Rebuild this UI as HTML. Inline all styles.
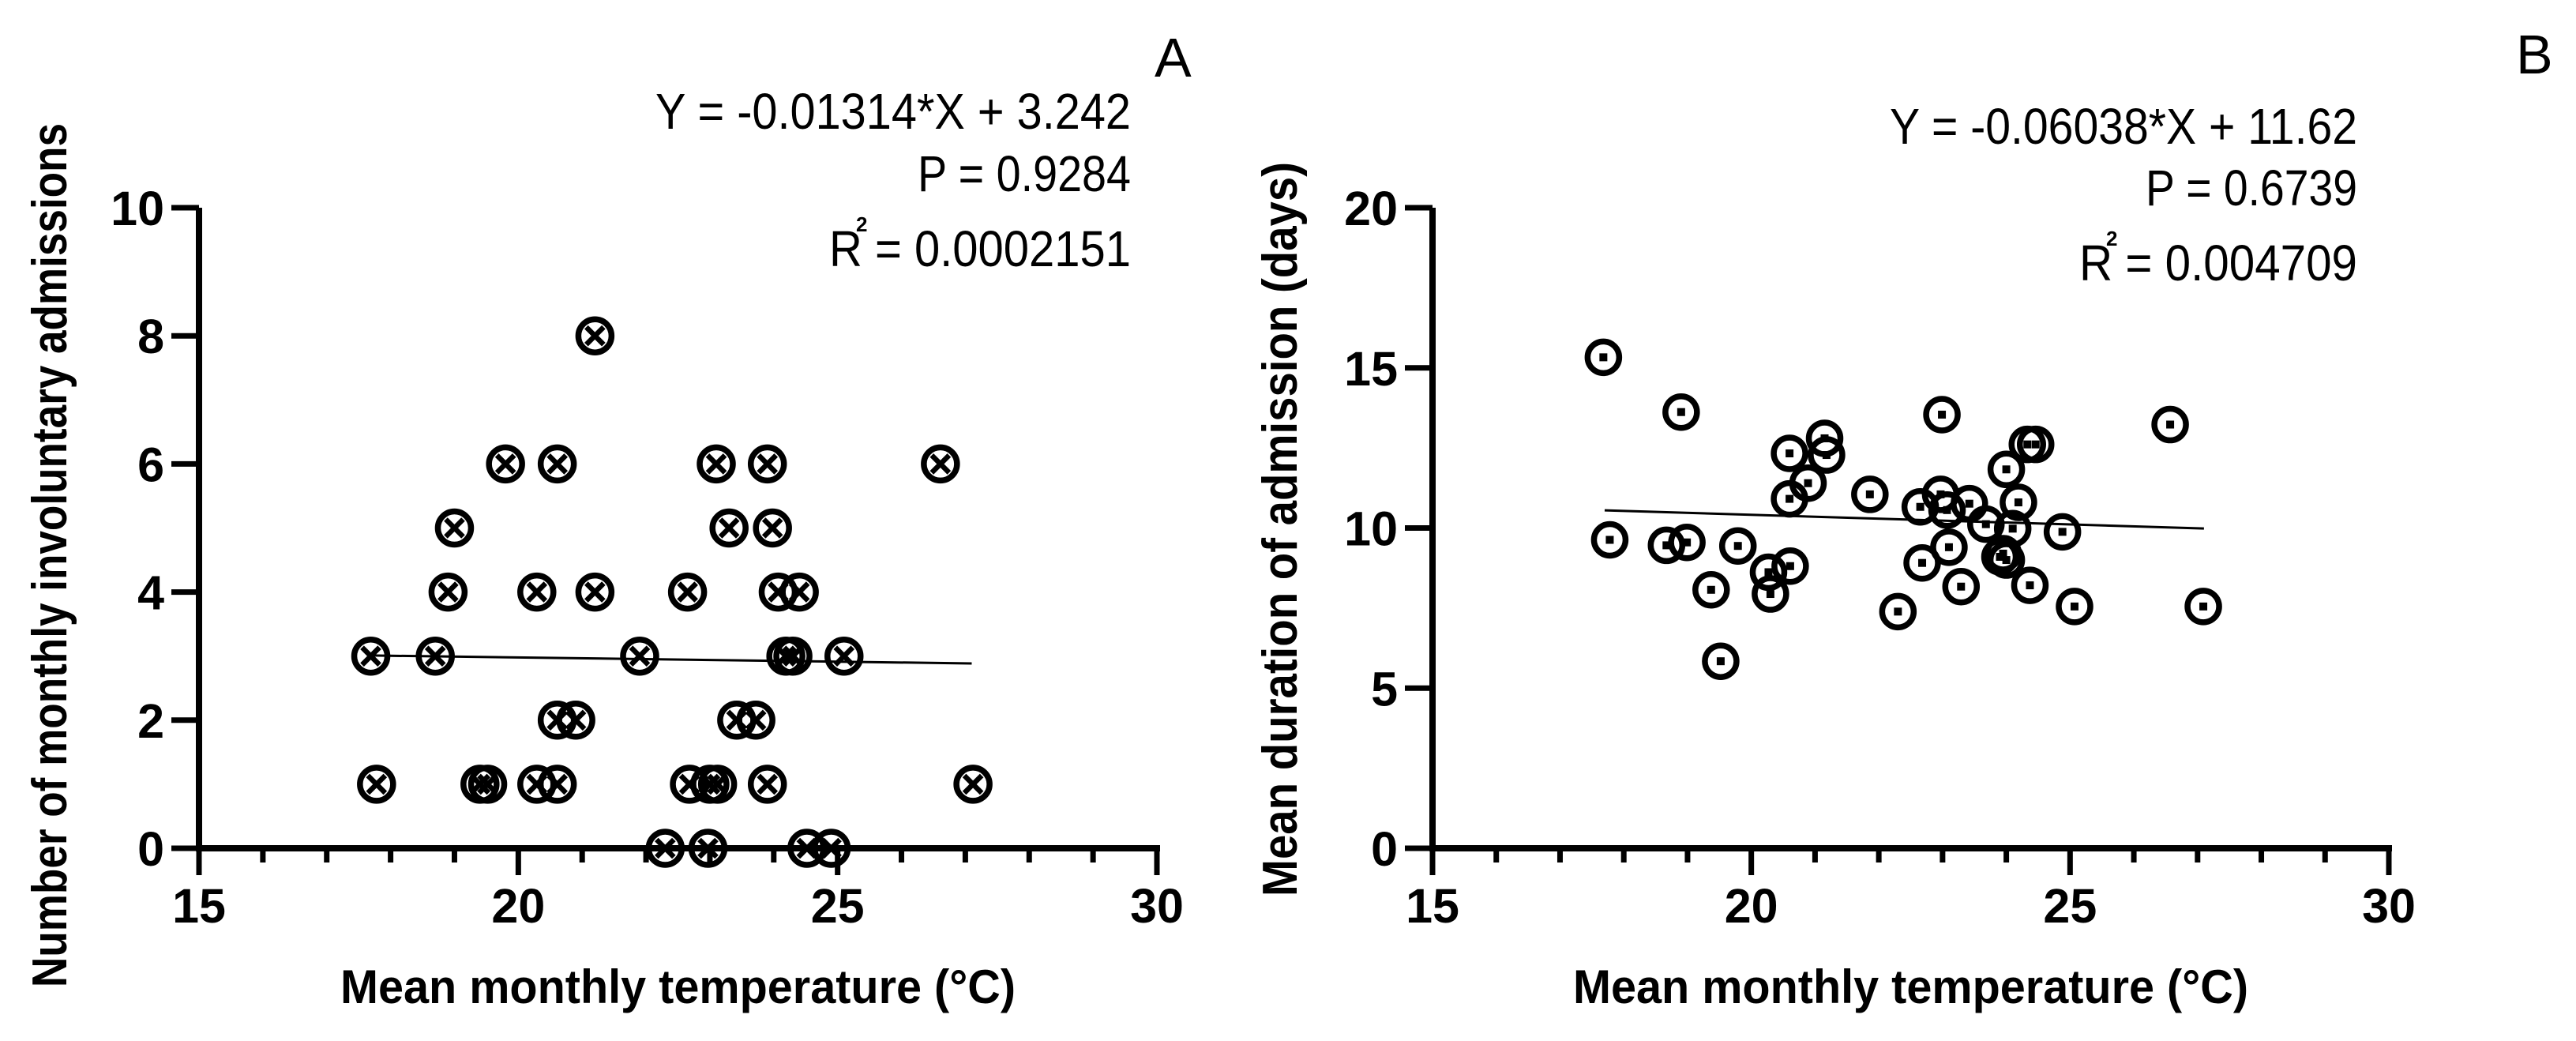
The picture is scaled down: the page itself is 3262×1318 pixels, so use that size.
<!DOCTYPE html>
<html><head><meta charset="utf-8"><style>
html,body{margin:0;padding:0;background:#fff;}
svg{display:block;}
</style></head><body>
<svg id="chart" xmlns="http://www.w3.org/2000/svg" width="3262" height="1318" viewBox="0 0 3262 1318">
<rect width="3262" height="1318" fill="#fff"/>
<g id="pa"></g>
<g id="pb"></g>
</svg>
<script>
// Panel A data
const aTemps = [17.69,17.78,18.70,18.90,19.0,19.8,19.4,19.52,20.29,20.29,20.61,20.61,20.61,20.9,21.2,21.2,21.9,22.3,22.65,22.68,22.97,23.0,23.12,23.1,23.3,23.42,23.72,23.9,23.9,23.98,24.07,24.4,24.19,24.3,24.52,24.9,25.1,26.61,27.12];
const aCounts = [3,1,3,4,5,6,1,1,4,1,6,1,2,2,8,4,3,0,4,1,0,1,1,6,5,2,2,6,1,5,4,4,3,3,0,0,3,6,1];
const aYTicks = [0,2,4,6,8,10];
const aFit = [-0.01314, 3.242];
// Panel B data
const bTemps = [17.68,17.78,18.9,18.67,18.99,19.37,19.52,19.79,20.27,20.3,20.6,20.6,20.61,20.89,21.15,21.18,21.86,22.3,22.65,22.68,22.99,22.97,23.07,23.1,23.29,23.42,23.68,23.9,23.95,24.0,24.0,24.1,24.19,24.33,24.46,24.37,24.88,25.07,26.57,27.09];
const bDur = [15.33,9.63,13.62,9.46,9.55,8.07,5.84,9.44,8.62,7.94,12.33,10.91,8.81,11.4,12.8,12.28,11.05,7.39,10.66,8.91,13.54,11.05,10.56,9.4,8.17,10.76,10.12,9.1,9.2,9.0,11.83,9.98,10.8,12.61,12.61,8.21,9.88,7.55,13.23,7.55];
const bYTicks = [0,5,10,15,20];
const bFit = [-0.06038, 11.62];
const xTicks = [15,20,25,30];
const fitRange = [17.7, 27.1];

const NS='http://www.w3.org/2000/svg';
function mk(parent, tag, attrs, text){
  const e=document.createElementNS(NS,tag);
  for(const k in attrs) e.setAttribute(k,attrs[k]);
  if(text!==undefined) e.textContent=text;
  parent.appendChild(e); return e;
}
const TICKF='"Liberation Sans", Arial, sans-serif';
const NARF='"Liberation Sans Narrow", "Liberation Sans", sans-serif';

function panel(g, cfg){
  const xs=v=>cfg.x0+(v-15)/15*(cfg.x1-cfg.x0);
  const ys=v=>cfg.y0-(v/cfg.ymax)*(cfg.y0-263);
  let e=mk(g,'line',{x1:cfg.x0,y1:263,x2:cfg.x0,y2:cfg.y0+4,stroke:'#000','stroke-width':8});
   
  e=mk(g,'line',{x1:cfg.x0-4,y1:cfg.y0,x2:cfg.x1+4,y2:cfg.y0,stroke:'#000','stroke-width':8});
   
  cfg.yticks.forEach(t=>{
    const y=ys(t);
    const l=mk(g,'line',{x1:cfg.x0-35,y1:y,x2:cfg.x0,y2:y,stroke:'#000','stroke-width':7});
     
    const tx=mk(g,'text',{x:cfg.x0-44,y:y+22,'text-anchor':'end','font-family':TICKF,'font-weight':'bold','font-size':61},String(t));
     
  });
  for(let v=15; v<=30; v++){
    const major = v%5===0;
    const x=xs(v);
    const l=mk(g,'line',{x1:x,y1:cfg.y0,x2:x,y2:cfg.y0+(major?34:18),stroke:'#000','stroke-width':7});
     
  }
  xTicks.forEach(t=>{
    const tx=mk(g,'text',{x:xs(t),y:1168,'text-anchor':'middle','font-family':TICKF,'font-weight':'bold','font-size':61},String(t));
     
  });
  let t=mk(g,'text',{x:(cfg.x0+cfg.x1)/2,y:1270,'text-anchor':'middle','font-family':NARF,'font-weight':'bold','font-size':60,textLength:855,lengthAdjust:'spacingAndGlyphs'},'Mean monthly temperature (°C)');
   
  t=mk(g,'text',{x:0,y:0,'text-anchor':'middle','font-family':NARF,'font-weight':'bold','font-size':62,textLength:cfg.ytLen,lengthAdjust:'spacingAndGlyphs',transform:`translate(${cfg.ytX},${cfg.ytY}) rotate(-90)`},cfg.ytitle);
   
  const eq=cfg.eq;
  t=mk(g,'text',{x:eq.r,y:eq.b[0],'text-anchor':'end','font-family':NARF,'font-size':64,textLength:eq.w[0],lengthAdjust:'spacingAndGlyphs'},eq.lines[0]);
   
  t=mk(g,'text',{x:eq.r,y:eq.b[1],'text-anchor':'end','font-family':NARF,'font-size':64,textLength:eq.w[1],lengthAdjust:'spacingAndGlyphs'},eq.lines[1]);
   
  t=mk(g,'text',{x:eq.r,y:eq.b[2],'text-anchor':'end','font-family':NARF,'font-size':64,textLength:eq.w[2],lengthAdjust:'spacingAndGlyphs'},eq.lines[2]);
   
  t=mk(g,'text',{x:eq.r-eq.w[2]+34,y:eq.b[2]-44,'font-family':NARF,'font-weight':'bold','font-size':26},'2');
   
  t=mk(g,'text',{x:cfg.letterX,y:cfg.letterY,'font-family':NARF,'font-size':70},cfg.letter);
   
  const f=cfg.fit;
  const fl=mk(g,'line',{x1:xs(fitRange[0]),y1:ys(f[0]*fitRange[0]+f[1]),x2:xs(fitRange[1]),y2:ys(f[0]*fitRange[1]+f[1]),stroke:'#000','stroke-width':3});
   
  cfg.xsData.forEach((xv,i)=>{
    const cx=xs(xv), cy=ys(cfg.ysData[i]);
    const p=mk(g,'g',{});
     
    mk(p,'circle',{cx:cx,cy:cy,r:cfg.r,fill:'none',stroke:'#000','stroke-width':7.5});
    if(cfg.marker==='x'){
      const d=11;
      mk(p,'line',{x1:cx-d,y1:cy-d,x2:cx+d,y2:cy+d,stroke:'#000','stroke-width':6.5});
      mk(p,'line',{x1:cx-d,y1:cy+d,x2:cx+d,y2:cy-d,stroke:'#000','stroke-width':6.5});
    } else {
      mk(p,'rect',{x:cx-5,y:cy-5,width:10,height:10,fill:'#000'});
    }
  });
}

panel(document.getElementById('pa'),{
  x0:252,x1:1465,y0:1074,ymax:10,yticks:aYTicks,
  xsData:aTemps,ysData:aCounts,fit:aFit,marker:'x',r:21,
  ytitle:'Number of monthly involuntary admissions',ytX:84,ytY:703,ytLen:1094,
  eq:{r:1432,w:[602,270,382],b:[163,242,337],lines:['Y = -0.01314*X + 3.242','P = 0.9284','R  = 0.0002151']},
  letter:'A',letterX:1462,letterY:97
});
panel(document.getElementById('pb'),{
  x0:1814,x1:3025,y0:1074,ymax:20,yticks:bYTicks,
  xsData:bTemps,ysData:bDur,fit:bFit,marker:'dot',r:20,
  ytitle:'Mean duration of admission (days)',ytX:1642,ytY:670,ytLen:930,
  eq:{r:2985,w:[592,268,352],b:[182,260,355],lines:['Y = -0.06038*X + 11.62','P = 0.6739','R  = 0.004709']},
  letter:'B',letterX:3186,letterY:93
});
</script>
</body></html>
